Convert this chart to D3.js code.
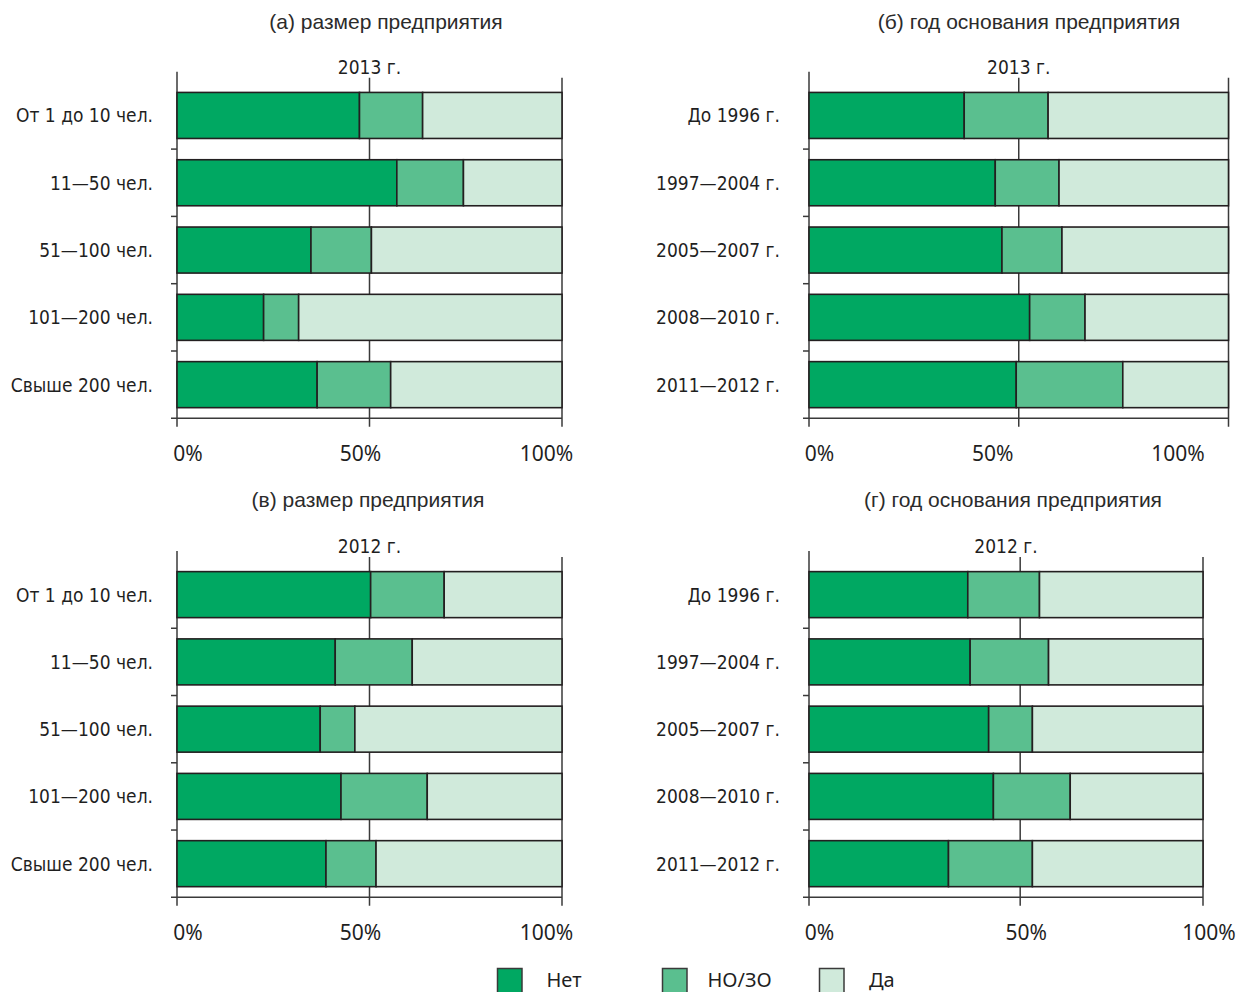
<!DOCTYPE html>
<html lang="ru">
<head>
<meta charset="utf-8">
<script src="https://cdn.jsdelivr.net/npm/d3@7"></script>
<style>
  html, body { margin: 0; padding: 0; background: #fff; }
  svg { display: block; }
  .title { font-family: "Liberation Sans", Arial, sans-serif; font-size: 21px; fill: #2b2b2b; }
  .cond { font-family: "DejaVu Sans Condensed", "Liberation Sans Narrow", "Roboto Condensed", sans-serif; font-stretch: condensed; font-size: 19px; fill: #1f1f1f; }
  .tick { font-family: "Noto Sans", "Open Sans", sans-serif; font-size: 21px; fill: #1f1f1f; }
  .leg { font-family: "Noto Sans", "Open Sans", sans-serif; font-size: 20px; fill: #1f1f1f; }
</style>
</head>
<body>
<svg id="chart" width="1237" height="992"></svg>
<script>
// Categories
const sizeCats = ["От 1 до 10 чел.", "11—50 чел.", "51—100 чел.", "101—200 чел.", "Свыше 200 чел."];
const yearCats = ["До 1996 г.", "1997—2004 г.", "2005—2007 г.", "2008—2010 г.", "2011—2012 г."];
const seriesNames = ["Нет", "НО/ЗО", "Да"];
const seriesColors = ["#00a862", "#5abf8f", "#d0eadb"];

// (а) size, 2013, shares in %
const sizeNo2013   = [47.4, 57.1, 34.8, 22.5, 36.4];
const sizeNoZo2013 = [16.4, 17.3, 15.7,  9.1, 19.1];
const sizeYes2013  = [36.2, 25.6, 49.5, 68.4, 44.5];

// (б) founding year, 2013
const yearNo2013   = [37.0, 44.4, 46.0, 52.6, 49.4];
const yearNoZo2013 = [20.0, 15.2, 14.3, 13.2, 25.4];
const yearYes2013  = [43.0, 40.4, 39.7, 34.2, 25.2];

// (в) size, 2012
const sizeNo2012   = [50.3, 41.1, 37.2, 42.6, 38.7];
const sizeNoZo2012 = [19.1, 20.0,  9.0, 22.4, 13.0];
const sizeYes2012  = [30.6, 38.9, 53.8, 35.0, 48.3];

// (г) founding year, 2012
const yearNo2012   = [40.3, 40.9, 45.6, 46.8, 35.4];
const yearNoZo2012 = [18.2, 19.9, 11.1, 19.5, 21.3];
const yearYes2012  = [41.5, 39.2, 43.3, 33.7, 43.3];

// Axis ticks
const tickLabels = ["0%", "50%", "100%"];
const gridValues = [0, 50, 100];
const gridValuesG = [0, 53.6, 100];

const titles = ["(а) размер предприятия", "(б) год основания предприятия",
                "(в) размер предприятия", "(г) год основания предприятия"];
const years = ["2013 г.", "2013 г.", "2012 г.", "2012 г."];

const svg = d3.select("#chart");
const lineColor = "#3a3a3a";

const panels = [
  { title: titles[0], year: years[0], cats: sizeCats, vals: [sizeNo2013, sizeNoZo2013, sizeYes2013],
    grid: gridValues, x0: 177, x1: 562, y0: 81.8, y1: 418.3, titleX: 386, titleY: 29, catGap: 24, labelDx: [11, -9, -15.5] },
  { title: titles[1], year: years[1], cats: yearCats, vals: [yearNo2013, yearNoZo2013, yearYes2013],
    grid: gridValues, x0: 809, x1: 1228.5, y0: 81.8, y1: 418.3, titleX: 1029, titleY: 29, catGap: 29, labelDx: [10.5, -26, -50.5] },
  { title: titles[2], year: years[2], cats: sizeCats, vals: [sizeNo2012, sizeNoZo2012, sizeYes2012],
    grid: gridValues, x0: 177, x1: 562, y0: 561, y1: 897.3, titleX: 368, titleY: 507, catGap: 24, labelDx: [11, -9, -15.5] },
  { title: titles[3], year: years[3], cats: yearCats, vals: [yearNo2012, yearNoZo2012, yearYes2012],
    grid: gridValuesG, x0: 809, x1: 1203, y0: 561, y1: 897.3, titleX: 1013, titleY: 507, catGap: 29, labelDx: [10.5, 6, 6] }
];

function drawPanel(p) {
  const x = d3.scaleLinear().domain([0, 100]).range([p.x0, p.x1]);
  const y = d3.scaleBand().domain(p.cats).range([p.y0, p.y1])
    .paddingInner(0.316).paddingOuter(0.158);
  const g = svg.append("g");

  const rows = p.cats.map((c, i) => {
    const r = { cat: c };
    seriesNames.forEach((s, k) => { r[s] = p.vals[k][i]; });
    return r;
  });
  const stacked = d3.stack().keys(seriesNames)(rows);

  // titles
  g.append("text").attr("class", "title").attr("x", p.titleX).attr("y", p.titleY)
    .attr("text-anchor", "middle").text(p.title);
  g.append("text").attr("class", "cond").attr("x", x(50)).attr("y", p.y0 - 8)
    .attr("text-anchor", "middle").text(p.year);

  // left axis line
  g.append("line").attr("x1", x(0)).attr("x2", x(0))
    .attr("y1", p.y0 - 10).attr("y2", p.y1 + 8.5)
    .attr("stroke", lineColor).attr("stroke-width", 1.5);

  // grid lines
  g.selectAll(".grid").data(p.grid.filter(v => v > 0)).enter().append("line")
    .attr("x1", d => x(d)).attr("x2", d => x(d))
    .attr("y1", p.y0 - 4).attr("y2", p.y1 + 8.5)
    .attr("stroke", lineColor).attr("stroke-width", 1.5);

  // bottom baseline
  g.append("line").attr("x1", x(0) - 6).attr("x2", x(100))
    .attr("y1", p.y1).attr("y2", p.y1)
    .attr("stroke", lineColor).attr("stroke-width", 1.5);

  // category separators
  g.selectAll(".sep").data(p.cats.slice(1)).enter().append("line")
    .attr("x1", x(0) - 6).attr("x2", x(0))
    .attr("y1", d => y(d) - y.step() * y.paddingInner() / 2)
    .attr("y2", d => y(d) - y.step() * y.paddingInner() / 2)
    .attr("stroke", lineColor).attr("stroke-width", 1.5);

  // bars
  stacked.forEach((layer, k) => {
    g.selectAll(".bar" + k).data(layer).enter().append("rect")
      .attr("x", d => x(d[0]))
      .attr("width", d => x(d[1]) - x(d[0]))
      .attr("y", d => y(d.data.cat))
      .attr("height", y.bandwidth())
      .attr("fill", seriesColors[k])
      .attr("stroke", "#231f20").attr("stroke-width", 1.6);
  });

  // category labels
  g.selectAll(".cat").data(p.cats).enter().append("text")
    .attr("class", "cond")
    .attr("x", x(0) - p.catGap)
    .attr("y", d => y(d) + y.bandwidth() / 2 + 7)
    .attr("text-anchor", "end")
    .text(d => d);

  // x tick labels
  g.selectAll(".xl").data(p.grid).enter().append("text")
    .attr("class", "tick")
    .attr("x", (d, i) => x(d) + p.labelDx[i])
    .attr("y", p.y1 + 43)
    .attr("text-anchor", "middle")
    .text((d, i) => tickLabels[i]);
}

panels.forEach(drawPanel);

// legend
const legendX = [497.5, 662.5, 819.5];
const legendTextX = [546.5, 707.5, 869];
const legend = svg.append("g");
seriesNames.forEach((s, k) => {
  legend.append("rect").attr("x", legendX[k]).attr("y", 968.5)
    .attr("width", 24.5).attr("height", 26)
    .attr("fill", seriesColors[k]).attr("stroke", "#3a3a3a").attr("stroke-width", 1.5);
  legend.append("text").attr("class", "leg").attr("x", legendTextX[k]).attr("y", 987)
    .text(s);
});
</script>
</body>
</html>
